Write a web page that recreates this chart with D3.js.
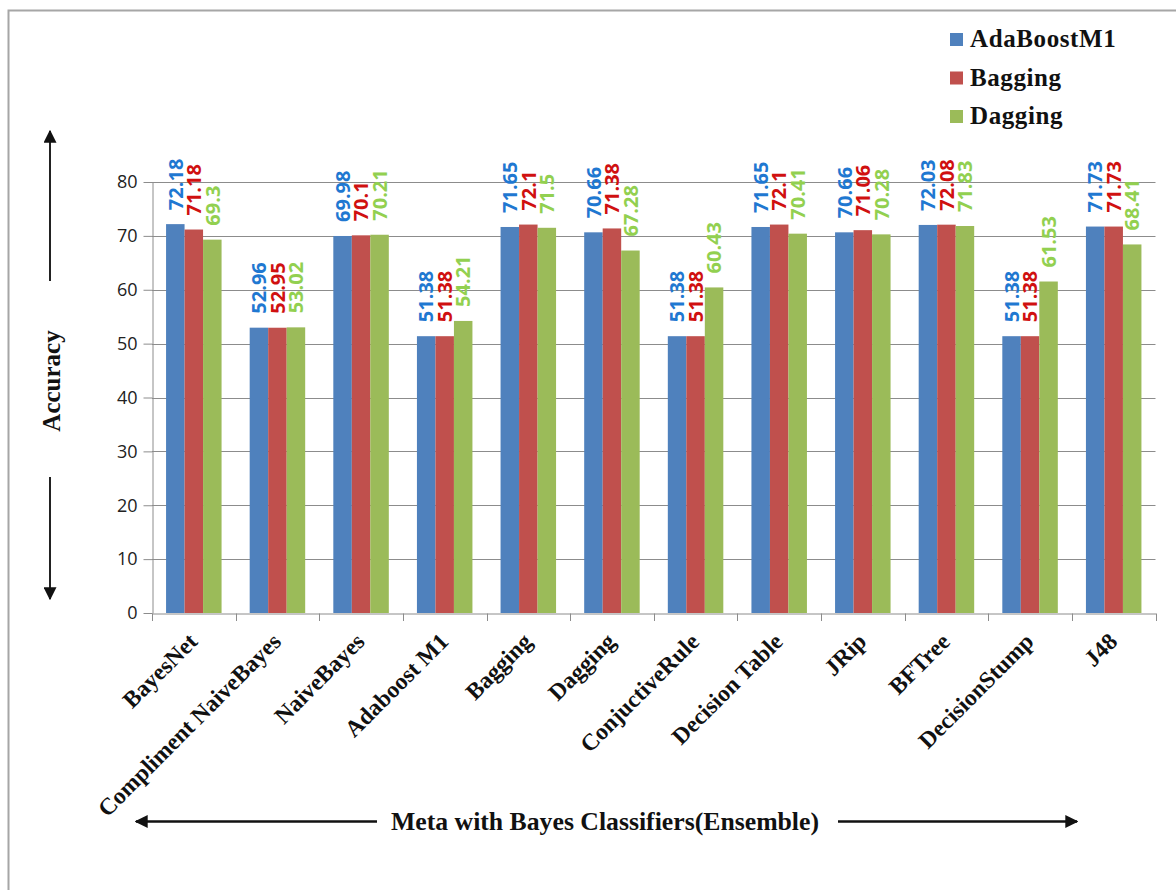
<!DOCTYPE html>
<html><head><meta charset="utf-8">
<script src="https://cdn.jsdelivr.net/npm/d3@7"></script>
<style>html,body{margin:0;padding:0;background:#fff;}svg{display:block;}</style>
</head><body>
<script>
const categories = ["BayesNet","Compliment NaiveBayes","NaiveBayes","Adaboost M1","Bagging","Dagging","ConjuctiveRule","Decision Table","JRip","BFTree","DecisionStump","J48"];
const seriesNames = ["AdaBoostM1","Bagging","Dagging"];
const adaBoostM1 = [72.18,52.96,69.98,51.38,71.65,70.66,51.38,71.65,70.66,72.03,51.38,71.73];
const bagging    = [71.18,52.95,70.1,51.38,72.1,71.38,51.38,72.1,71.06,72.08,51.38,71.73];
const dagging    = [69.3,53.02,70.21,54.21,71.5,67.28,60.43,70.41,70.28,71.83,61.53,68.41];
const yTicks = [0,10,20,30,40,50,60,70,80];
const barColors = ["#4F81BD","#C0504D","#9BBB59"];
const labelColors = ["#1F78D1","#D01010","#92D050"];
const yTitle = "Accuracy";
const xTitle = "Meta with Bayes Classifiers(Ensemble)";

const seriesValues = [adaBoostM1, bagging, dagging];
const W = 1176, H = 890;
const svg = d3.select("body").append("svg").attr("width", W).attr("height", H);

// outer frame
svg.append("path").attr("d", `M8.5,${H} V10.5 H${W}`).attr("fill","none").attr("stroke","#A6A6A6").attr("stroke-width",2);

const x = d3.scaleBand().domain(categories).range([152, 1155.5]).paddingInner(0).paddingOuter(0);
const xs = d3.scaleBand().domain(seriesNames).range([0, x.bandwidth()]).paddingInner(0).paddingOuter(0.76);
const y = d3.scaleLinear().domain([0, 80]).range([613, 182]);

// gridlines
svg.append("g").selectAll("line").data(yTicks.filter(d => d > 0)).join("line")
  .attr("x1", 152).attr("x2", 1155.5)
  .attr("y1", d => Math.round(y(d)) + 0.5).attr("y2", d => Math.round(y(d)) + 0.5)
  .attr("stroke", "#8C8C8C").attr("stroke-width", 1);

// y axis
const yAxis = svg.append("g").attr("transform", "translate(152.5,0)")
  .call(d3.axisLeft(y).tickValues(yTicks).tickSize(9).tickPadding(6).tickSizeOuter(0));
yAxis.select(".domain").attr("stroke", "#8C8C8C");
yAxis.selectAll(".tick line").attr("stroke", "#8C8C8C");
yAxis.selectAll(".tick text").attr("font-family", "'Open Sans', sans-serif").attr("font-size", 18).attr("fill", "#222");

// bars
const groups = svg.append("g").selectAll("g").data(categories).join("g")
  .attr("transform", d => `translate(${x(d)},0)`);
seriesNames.forEach((s, si) => {
  groups.append("rect")
    .attr("x", xs(s)).attr("width", xs.bandwidth())
    .attr("y", (d, i) => y(seriesValues[si][i]))
    .attr("height", (d, i) => y(0) - y(seriesValues[si][i]))
    .attr("fill", barColors[si]);
});
// value labels
seriesNames.forEach((s, si) => {
  groups.append("text")
    .attr("transform", (d, i) => `translate(${xs(s) + xs.bandwidth()/2},${y(seriesValues[si][i]) - 14}) rotate(-90)`)
    .attr("dy", "0.36em")
    .attr("text-anchor", "start")
    .attr("font-family", "'Open Sans', sans-serif").attr("font-weight", "bold").attr("font-size", 20)
    .attr("fill", labelColors[si])
    .text((d, i) => String(seriesValues[si][i]));
});

// x axis
const xAxis = svg.append("g").attr("transform", "translate(0,613.5)")
  .call(d3.axisBottom(x).tickSize(0).tickFormat(""));
xAxis.select(".domain").attr("stroke", "#8C8C8C");
xAxis.selectAll(".tick").remove();
svg.append("g").selectAll("line").data(categories.map((c, i) => i).concat([categories.length])).join("line")
  .attr("x1", i => Math.round(x.range()[0] + i * x.step()) + 0.5)
  .attr("x2", i => Math.round(x.range()[0] + i * x.step()) + 0.5)
  .attr("y1", 613.5).attr("y2", 621).attr("stroke", "#8C8C8C");

// category labels
svg.append("g").selectAll("text").data(categories).join("text")
  .attr("transform", d => `translate(${x(d) + x.bandwidth()/2 + 5},${643}) rotate(-45)`)
  .attr("text-anchor", "end")
  .attr("font-family", "'Liberation Serif', 'Times New Roman', serif").attr("font-weight", "bold").attr("font-size", 23.5)
  .attr("fill", "#111")
  .text(d => d);

// arrowheads
const defs = svg.append("defs");
defs.append("marker").attr("id", "ah2").attr("viewBox", "0 0 10 10").attr("refX", 9).attr("refY", 5)
  .attr("markerWidth", 13).attr("markerHeight", 13).attr("markerUnits", "userSpaceOnUse").attr("orient", "auto")
  .append("path").attr("d", "M0,0 L10,5 L0,10 Z").attr("fill", "#111");

// y title + arrows
svg.append("text").attr("transform", "translate(60,381) rotate(-90)")
  .attr("text-anchor", "middle")
  .attr("font-family", "'Liberation Serif', 'Times New Roman', serif").attr("font-weight", "bold").attr("font-size", 25)
  .attr("fill", "#111").text(yTitle);
svg.append("line").attr("x1", 50).attr("x2", 50).attr("y1", 281).attr("y2", 131)
  .attr("stroke", "#222").attr("stroke-width", 2).attr("marker-end", "url(#ah2)");
svg.append("line").attr("x1", 50).attr("x2", 50).attr("y1", 477).attr("y2", 599)
  .attr("stroke", "#222").attr("stroke-width", 2).attr("marker-end", "url(#ah2)");

// x title + arrows
svg.append("text").attr("x", 605).attr("y", 830)
  .attr("text-anchor", "middle")
  .attr("textLength", 428).attr("lengthAdjust", "spacingAndGlyphs")
  .attr("font-family", "'Liberation Serif', 'Times New Roman', serif").attr("font-weight", "bold").attr("font-size", 25)
  .attr("fill", "#111").text(xTitle);
svg.append("line").attr("x1", 377).attr("x2", 136).attr("y1", 821.5).attr("y2", 821.5)
  .attr("stroke", "#111").attr("stroke-width", 2.5).attr("marker-end", "url(#ah2)");
svg.append("line").attr("x1", 838).attr("x2", 1077).attr("y1", 821.5).attr("y2", 821.5)
  .attr("stroke", "#111").attr("stroke-width", 2.5).attr("marker-end", "url(#ah2)");

// legend
const legend = svg.append("g").selectAll("g").data(seriesNames).join("g")
  .attr("transform", (d, i) => `translate(950,${33 + i * 38.5})`);
legend.append("rect").attr("width", 13).attr("height", 13).attr("fill", (d, i) => barColors[i]);
legend.append("text").attr("x", 20).attr("y", 14)
  .attr("font-family", "'Liberation Serif', 'Times New Roman', serif").attr("font-weight", "bold").attr("font-size", 25)
  .attr("letter-spacing", 0.6)
  .attr("fill", "#111").text(d => d);
</script>
</body></html>
